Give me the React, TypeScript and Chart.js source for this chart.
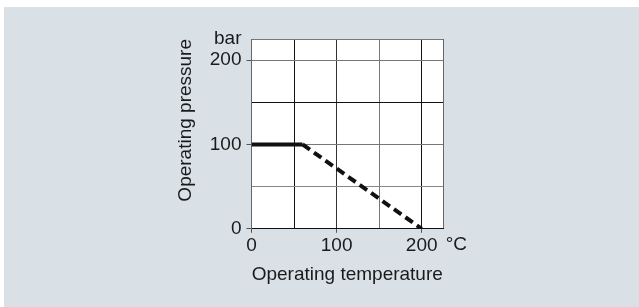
import React, { useEffect, useRef } from "react";
import { Chart, registerables } from "chart.js";

Chart.register(...registerables);

// ---- data ----
const solidTemps = [0, 60];
const solidPressures = [100, 100];
const dashedTemps = [60, 200];
const dashedPressures = [100, 0];

const xTickValues = [0, 50, 100, 150, 200, 225];
const xTickLabels = ["0", "", "100", "", "200", ""];
const yTickValues = [0, 50, 100, 150, 200, 225];
const yTickLabels = ["0", "", "100", "", "200", "bar"];
const xUnit = "°C";

const xTitle = "Operating temperature";
const yTitle = "Operating pressure";

// ---- styles ----
const BG = "#d9e1e7";
const TEXT = "#1a1a1a";
const FONT = "'Liberation Sans', Arial, sans-serif";
const xGridColors = ["#666", "#111", "#333", "#777", "#111", "#666"];
const yGridColors = ["#111", "#888", "#777", "#111", "#777", "#777"];

export default function App() {
  const ref = useRef<HTMLCanvasElement | null>(null);

  useEffect(() => {
    if (!ref.current) return;

    const plotBg = {
      id: "plotBg",
      beforeDraw(chart: any) {
        const { ctx, chartArea } = chart;
        ctx.save();
        ctx.fillStyle = "#ffffff";
        ctx.fillRect(chartArea.left, chartArea.top, chartArea.right - chartArea.left, chartArea.bottom - chartArea.top);
        ctx.restore();
      },
    };

    const unitLabel = {
      id: "unitLabel",
      afterDraw(chart: any) {
        const { ctx } = chart;
        const xs = chart.scales.x;
        const px = xs.getPixelForValue(200);
        ctx.save();
        ctx.font = `19px ${FONT}`;
        ctx.fillStyle = TEXT;
        ctx.textAlign = "left";
        ctx.textBaseline = "top";
        ctx.fillText(xUnit, px + 24, xs.top + 6);
        ctx.restore();
      },
    };

    const chart = new Chart(ref.current, {
      type: "line",
      data: {
        datasets: [
          {
            data: solidTemps.map((t, i) => ({ x: t, y: solidPressures[i] })),
            borderColor: "#111",
            borderWidth: 4,
            pointRadius: 0,
            borderCapStyle: "butt",
          },
          {
            data: dashedTemps.map((t, i) => ({ x: t, y: dashedPressures[i] })),
            borderColor: "#111",
            borderWidth: 4,
            borderDash: [9, 5],
            pointRadius: 0,
          },
        ],
      },
      options: {
        animation: false,
        responsive: false,
        maintainAspectRatio: false,
        events: [],
        layout: { padding: { left: 166, right: 196, top: 32, bottom: 0 } },
        plugins: { legend: { display: false }, tooltip: { enabled: false } },
        scales: {
          x: {
            type: "linear",
            min: 0,
            max: 225,
            afterBuildTicks: (s: any) => {
              s.ticks = xTickValues.map((v) => ({ value: v }));
            },
            ticks: {
              autoSkip: false,
              maxRotation: 0,
              padding: 2,
              color: TEXT,
              font: { family: FONT, size: 19 },
              callback: (_v: any, i: number) => xTickLabels[i],
            },
            grid: {
              color: (c: any) => xGridColors[c.index] ?? "#666",
              tickColor: (c: any) => (xTickLabels[c.index] ? "#555" : "rgba(0,0,0,0)"),
              tickLength: 4,
              lineWidth: 1,
            },
            border: { color: "#111", width: 1 },
            title: {
              display: true,
              text: xTitle,
              color: TEXT,
              font: { family: FONT, size: 19 },
              padding: { top: 4, bottom: 20.6 },
            },
          },
          y: {
            type: "linear",
            min: 0,
            max: 225,
            afterBuildTicks: (s: any) => {
              s.ticks = yTickValues.map((v) => ({ value: v }));
            },
            ticks: {
              autoSkip: false,
              padding: 5,
              color: TEXT,
              font: { family: FONT, size: 19 },
              callback: (_v: any, i: number) => yTickLabels[i],
            },
            grid: {
              color: (c: any) => yGridColors[c.index] ?? "#777",
              tickColor: (c: any) => (yTickLabels[c.index] && yTickLabels[c.index] !== "bar" ? "#555" : "rgba(0,0,0,0)"),
              tickLength: 5,
              lineWidth: 1,
            },
            border: { color: "#666", width: 1 },
            title: {
              display: true,
              text: yTitle,
              align: "end",
              color: TEXT,
              font: { family: FONT, size: 19 },
              padding: { top: 4, bottom: 8 },
            },
          },
        },
      },
      plugins: [plotBg, unitLabel],
    } as any);

    return () => chart.destroy();
  }, []);

  return (
    <div style={{ position: "fixed", left: 0, top: 0, width: 639, height: 307, background: "#ffffff" }}>
      <div style={{ position: "absolute", left: 4, top: 7, width: 635, height: 300, background: BG }}>
        <canvas ref={ref} width={635} height={300} style={{ display: "block", width: 635, height: 300 }} />
      </div>
    </div>
  );
}
